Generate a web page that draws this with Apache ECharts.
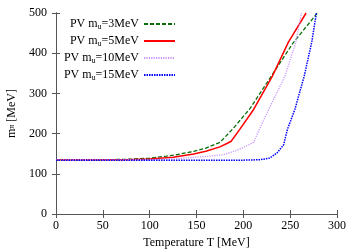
<!DOCTYPE html>
<html><head><meta charset="utf-8">
<script src="https://cdn.jsdelivr.net/npm/echarts@6/dist/echarts.min.js"></script>
<style>html,body{margin:0;padding:0;background:#fff}#c{width:358px;height:251px}</style>
</head><body><div id="c"></div>
<script>
const xTicks = [0, 50, 100, 150, 200, 250, 300];
const yTicks = [0, 100, 200, 300, 400, 500];
const seriesNames = ['3MeV', '5MeV', '10MeV', '15MeV'];
const pv3 = [[0,135],[50,135],[75,136],[100,139],[118,144],[130,148],[147,156],[160,164],[175,178],[190,215],[207,262],[229,340],[253,425],[279,500]];
const pv5 = [[0,135],[75,135],[100,137],[125,141],[147,149],[160,156],[175,167],[183,176],[187,181],[196,210],[211,260],[231,343],[248,427],[267,500]];
const pv10 = [[0,135],[100,135],[125,137],[147,141],[165,144],[179,148],[193,158],[211,178],[217,210],[227,260],[244.5,343],[256,427],[262,500]];
const pv15 = [[0,134],[150,134],[200,134],[218,135],[228,139],[236,152],[243,172],[247,210],[255,260],[265,343],[273,427],[278,500]];

const font = 'Liberation Serif';
const chart = echarts.init(document.getElementById('c'));
const axisCol = '#555';
function mk(name, data, color, type, width) {
  return {name: 'PV m{s|u}=' + name, type: 'line', data: data, showSymbol: false, symbol: 'none',
    lineStyle: {color: color, type: type, width: width}, itemStyle: {color: color}, z: 3, clip: true};
}
chart.setOption({
  animation: false,
  grid: {left: 56, right: 21, top: 13, bottom: 37, containLabel: false, outerBoundsMode: 'none'},
  legend: {
    orient: 'vertical', align: 'right', right: 182, top: 18, itemGap: 4, padding: 0,
    itemWidth: 31, itemHeight: 14, itemTextGap: 9,
    itemStyle: {opacity: 0},
    textStyle: {fontFamily: font, fontSize: 12, color: '#000', rich: {s: {fontFamily: font, fontSize: 8, verticalAlign: 'bottom', padding: [6,0,0,0]}}},
    data: seriesNames.map(n => ({name: 'PV m{s|u}=' + n}))
  },
  xAxis: [{
    type: 'value', min: 0, max: 300, interval: 50,
    name: 'Temperature T [MeV]', nameLocation: 'middle', nameGap: 21,
    nameTextStyle: {fontFamily: font, fontSize: 12, color: '#000'},
    axisLine: {lineStyle: {color: axisCol, width: 1}},
    axisTick: {inside: true, length: 4, lineStyle: {color: axisCol}},
    axisLabel: {fontFamily: font, fontSize: 12, color: '#000', margin: 6,
      formatter: v => xTicks.includes(v) ? String(v) : ''},
    splitLine: {show: false}
  }, {
    type: 'value', position: 'top', min: 0, max: 300, interval: 50,
    axisLine: {show: true, lineStyle: {color: axisCol}},
    axisTick: {inside: true, length: 4, lineStyle: {color: axisCol}},
    axisLabel: {show: false}, splitLine: {show: false}
  }],
  yAxis: [{
    type: 'value', min: 0, max: 500, interval: 100,
    name: 'm{s|π} [MeV]', nameLocation: 'middle', nameGap: 38, nameRotate: 90,
    nameTextStyle: {fontFamily: font, fontSize: 12, color: '#000', rich: {s: {fontFamily: font, fontSize: 8, padding: [0,0,0,0]}}},
    axisLine: {show: true, lineStyle: {color: axisCol}},
    axisTick: {show: true, inside: true, length: 4, lineStyle: {color: axisCol}},
    axisLabel: {fontFamily: font, fontSize: 12, color: '#000', margin: 9,
      formatter: v => yTicks.includes(v) ? String(v) : ''},
    splitLine: {show: false}
  }, {
    type: 'value', position: 'right', min: 0, max: 500, interval: 100,
    axisLine: {show: true, lineStyle: {color: axisCol}},
    axisTick: {show: true, inside: true, length: 4, lineStyle: {color: axisCol}},
    axisLabel: {show: false}, splitLine: {show: false}
  }],
  series: [
    mk('3MeV', pv3, '#0a6e0a', [4, 2], 1.3),
    mk('5MeV', pv5, '#ff0000', 'solid', 1.5),
    mk('10MeV', pv10, '#c896ff', [1.2, 1.2], 1.3),
    mk('15MeV', pv15, '#0000ff', [1.5, 1], 1.5)
  ]
});
</script></body></html>
